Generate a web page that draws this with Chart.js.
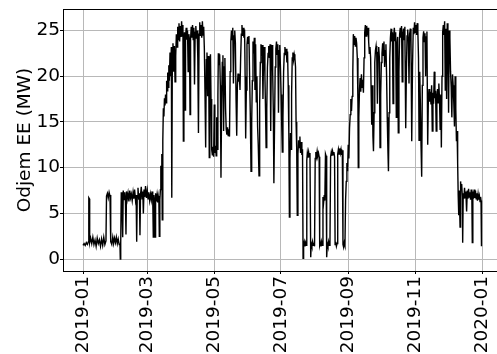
<!DOCTYPE html>
<html>
<head>
<meta charset="utf-8">
<title>Odjem EE</title>
<script src="https://cdn.jsdelivr.net/npm/chart.js@4/dist/chart.umd.min.js"></script>
<style>
    html, body { margin: 0; padding: 0; background: #ffffff; overflow: hidden; }
    #chartOdjem { display: block; }
</style>
</head>
<body>
<canvas id="chartOdjem" width="497" height="354"></canvas>
<script>
'use strict';

//tick labels

const xTickDays = [0, 59, 120, 181, 243, 304, 365];   //days since 2019-01-01
const xTickLabels = ['2019-01', '2019-03', '2019-05', '2019-07', '2019-09', '2019-11', '2020-01'];
const yTicks = [0, 5, 10, 15, 20, 25];

//series: day since 2019-01-01 and load in MW

const days = [
    0, 1, 2, 3, 4, 5, 5.3, 5.8, 6.1, 7,
    8, 9, 10, 11, 12, 13, 14, 15, 16, 17,
    18, 19, 20, 21, 21.5, 22.3, 23.1, 23.9, 24.7, 25.2,
    25.5, 26.3, 27.2, 28, 28.8, 29.7, 30.5, 31.4, 32.2, 33.1,
    33.8, 34.1, 34.5, 35, 35.6, 36.3, 36.8, 37.5, 38.2, 38.8,
    39.3, 39.8, 40.5, 41.2, 42, 42.8, 43.5, 44.2, 45, 45.8,
    46.5, 47.2, 48, 48.6, 49.1, 49.6, 50.3, 51, 51.6, 52.1,
    52.6, 53.3, 54, 54.7, 55.2, 55.8, 56.5, 57.2, 58, 58.8,
    59.5, 60.2, 61, 61.8, 62.5, 63.2, 63.8, 64.3, 64.8, 65.4,
    65.9, 66.4, 67, 67.7, 68.3, 68.8, 69.4, 69.8, 70.3, 70.8,
    71.2, 71.6, 72.1, 72.5, 73, 73.5, 74, 74.5, 75, 75.5,
    76, 76.5, 77, 77.5, 78, 78.5, 79, 79.6, 80.2, 80.8,
    81.2, 81.7, 82.3, 83, 83.6, 84.2, 84.8, 85.4, 86, 86.6,
    87.2, 87.8, 88.4, 89, 89.6, 90.2, 90.8, 91.4, 91.8, 92.3,
    92.8, 93.3, 93.8, 94.4, 95, 95.6, 96.2, 96.8, 97.4, 97.9,
    98.4, 99, 99.6, 100.2, 100.8, 101.4, 102, 102.6, 103.2, 103.8,
    104.4, 105, 105.6, 106.2, 106.8, 107.4, 108, 108.6, 109.2, 109.8,
    110.4, 111, 111.6, 112.2, 112.8, 113.4, 114, 114.6, 115.1, 115.5,
    116, 116.6, 117.1, 117.7, 118.3, 118.9, 119.5, 120.1, 120.6, 121.2,
    121.8, 122.3, 122.9, 123.4, 123.8, 124.4, 125, 125.6, 126.2, 126.8,
    127.4, 128, 128.6, 129.2, 129.8, 130.4, 131, 131.6, 132.2, 132.8,
    133.4, 134, 134.6, 135.2, 135.8, 136.4, 137, 137.6, 138.2, 138.8,
    139.4, 140, 140.6, 141.2, 141.8, 142.4, 143, 143.6, 144.2, 144.8,
    145.4, 146, 146.6, 147.2, 147.8, 148.3, 148.8, 149.4, 150, 150.6,
    151.2, 151.8, 152.4, 153, 153.7, 154.3, 154.9, 155.5, 156.1, 156.7,
    157.3, 157.9, 158.5, 159.1, 159.7, 160.3, 161, 161.6, 162.2, 162.8,
    163.4, 164, 164.6, 165.2, 165.8, 166.4, 167, 167.5, 168.1, 168.7,
    169.3, 169.9, 170.5, 171.1, 171.7, 172.3, 172.9, 173.5, 174.1, 174.6,
    175.2, 175.8, 176.4, 177, 177.6, 178.2, 178.8, 179.4, 180, 180.6,
    181.2, 181.8, 182.3, 182.9, 183.5, 184.1, 184.7, 185.3, 185.9, 186.5,
    187.1, 187.7, 188.3, 188.8, 189.3, 189.8, 190.3, 190.8, 191.4, 192,
    192.6, 193.2, 193.8, 194.4, 194.9, 195.5, 196, 196.6, 197.2, 197.8,
    198.4, 199, 199.6, 200.2, 200.8, 201.3, 201.8, 202.4, 203, 203.6,
    204.2, 204.7, 205.2, 205.8, 206.4, 207, 207.6, 208.3, 208.8, 209.4,
    210, 210.6, 211.2, 211.8, 212.4, 213, 213.6, 214.2, 214.8, 215.4,
    216, 216.5, 217.1, 217.7, 218.3, 218.9, 219.5, 220.1, 220.7, 221.2,
    221.8, 222.3, 222.9, 223.5, 224.1, 224.7, 225.3, 225.9, 226.5, 227.1,
    227.7, 228.3, 228.9, 229.5, 230.1, 230.6, 231.2, 231.8, 232.4, 233,
    233.6, 234.2, 234.8, 235.4, 236, 236.6, 237.2, 237.8, 238.4, 239,
    239.6, 240.2, 240.8, 241.4, 242, 242.6, 243.2, 243.8, 244.4, 245,
    245.6, 246.2, 246.8, 247.3, 247.9, 248.5, 249.1, 249.7, 250.3, 250.9,
    251.5, 251.8, 252.3, 252.9, 253.5, 254.1, 254.7, 255.3, 255.9, 256.5,
    257.1, 257.7, 258.3, 258.9, 259.5, 260.1, 260.7, 261.3, 261.9, 262.5,
    263.1, 263.6, 264.1, 264.7, 265.2, 265.7, 266.3, 266.9, 267.5, 268.1,
    268.7, 269.3, 269.9, 270.5, 271.1, 271.7, 272.3, 272.9, 273.5, 274.1,
    274.7, 275.3, 275.9, 276.5, 277.1, 277.7, 278.3, 278.9, 279.4, 280,
    280.6, 281.2, 281.8, 282.4, 283, 283.6, 284.2, 284.8, 285.4, 286,
    286.6, 287.2, 287.8, 288.4, 289, 289.6, 290.2, 290.8, 291.4, 292,
    292.6, 293.2, 293.8, 294.4, 295.2, 295.8, 296.4, 297, 297.6, 298.2,
    298.8, 299.4, 300, 300.7, 301.4, 302.1, 302.7, 303.3, 303.9, 304.5,
    305.1, 305.7, 306.3, 306.9, 307.4, 308, 308.6, 309.2, 309.8, 310.4,
    311, 311.6, 312.2, 312.8, 313.4, 314, 314.6, 315.3, 315.9, 316.5,
    317.1, 317.7, 318.3, 318.9, 319.5, 320.1, 320.7, 321.3, 321.9, 322.5,
    323.1, 323.7, 324.3, 324.9, 325.5, 326.1, 326.7, 327.3, 327.8, 328.4,
    329, 329.6, 330.2, 330.8, 331.4, 332, 332.6, 333.2, 333.8, 334.4,
    335, 335.6, 336.2, 336.8, 337.4, 338, 338.6, 339.2, 339.8, 340.4,
    341, 341.6, 342.2, 342.7, 343.2, 343.7, 344.2, 344.9, 345.4, 345.9,
    346.4, 347, 347.3, 347.8, 348.4, 349, 349.6, 350.2, 350.9, 351.5,
    352.1, 352.7, 353.3, 353.9, 354.5, 355.1, 355.7, 356.1, 356.6, 357.2,
    357.8, 358.4, 359, 359.6, 360.2, 360.8, 361.4, 362, 362.6, 363.2,
    363.7, 364.1, 364.5
];

const odjemMW = [
    1.5, 1.7, 1.5, 1.8, 1.6, 1.9, 6.7, 6.6, 1.8, 2.3,
    1.7, 2.4, 1.6, 2.1, 1.4, 2.3, 1.7, 2.1, 1.4, 2.2,
    1.5, 2.4, 1.6, 2.0, 6.9, 7.2, 6.7, 7.3, 6.9, 7.0,
    1.9, 1.6, 2.4, 1.7, 2.3, 1.8, 2.4, 1.7, 2.2, 1.6,
    1.7, 0.0, 1.8, 7.3, 6.6, 2.4, 7.5, 6.5, 7.3, 6.4,
    2.7, 7.4, 6.6, 7.2, 6.3, 7.5, 6.7, 7.1, 6.4, 7.3,
    6.6, 7.6, 6.5, 7.0, 1.9, 6.8, 7.8, 6.5, 7.2, 2.6,
    7.0, 7.9, 6.6, 7.4, 5.0, 7.6, 6.8, 8.0, 6.7, 7.5,
    6.6, 7.3, 6.4, 7.1, 6.5, 7.4, 6.6, 2.4, 7.0, 6.4,
    2.4, 7.2, 6.3, 7.0, 6.2, 6.9, 6.4, 2.5, 6.5, 7.6,
    10.2, 9.0, 11.5, 4.3, 13.0, 16.5, 15.6, 17.6, 16.8, 18.0,
    17.1, 19.5, 18.4, 20.4, 18.8, 21.2, 19.5, 22.6, 20.0, 23.2,
    6.7, 21.5, 23.6, 20.5, 23.3, 19.4, 22.2, 24.6, 23.2, 25.4,
    24.0, 25.8, 23.8, 25.5, 24.3, 26.0, 24.4, 25.6, 12.9, 23.6,
    24.8, 16.3, 24.2, 25.3, 24.0, 25.0, 20.5, 24.6, 23.9, 15.8,
    24.1, 25.4, 24.2, 25.6, 24.0, 25.3, 19.1, 24.8, 25.5, 24.1,
    25.0, 22.0, 13.8, 24.6, 25.9, 24.4, 25.6, 24.2, 26.0, 24.5,
    25.4, 23.0, 18.0, 12.2, 21.8, 22.6, 17.8, 22.2, 18.5, 11.1,
    21.5, 22.4, 17.5, 12.0, 11.4, 12.3, 11.2, 16.9, 11.6, 12.4,
    11.3, 15.5, 12.0, 18.0, 22.5, 21.2, 22.4, 19.0, 8.9, 17.0,
    21.5, 22.3, 14.0, 21.0, 22.0, 16.5, 14.2, 13.6, 14.4, 13.5,
    14.2, 13.4, 20.5, 23.8, 25.0, 24.0, 25.3, 19.2, 24.4, 25.0,
    23.6, 17.5, 13.5, 19.0, 20.3, 19.4, 20.2, 18.5, 22.0, 24.6,
    25.6, 24.4, 25.3, 24.2, 25.1, 20.0, 13.2, 18.5, 23.5, 24.3,
    23.6, 24.4, 20.0, 16.0, 9.6, 15.0, 19.5, 23.8, 22.5, 24.2,
    18.5, 23.5, 17.2, 20.0, 14.5, 12.5, 9.1, 17.0, 21.5, 23.5,
    22.8, 23.4, 17.5, 22.6, 23.2, 20.0, 16.0, 12.2, 16.5, 21.0,
    22.5, 23.3, 22.0, 23.5, 14.0, 22.8, 23.4, 20.5, 16.0, 8.3,
    14.5, 21.0, 23.0, 23.8, 22.4, 23.5, 16.0, 22.8, 23.4, 21.0,
    18.0, 14.5, 11.7, 15.5, 20.5, 22.5, 23.2, 22.3, 23.0, 21.5,
    22.7, 19.0, 13.5, 4.6, 11.0, 13.8, 12.0, 18.0, 22.0, 22.6,
    21.8, 22.4, 22.0, 21.0, 15.0, 12.0, 4.8, 11.5, 13.0, 12.2,
    13.4, 11.6, 12.8, 11.4, 12.0, 0.1, 1.6, 1.9, 1.4, 1.8,
    1.5, 10.8, 11.6, 11.1, 11.7, 11.2, 11.6, 0.2, 1.7, 1.4,
    1.9, 1.5, 1.8, 1.4, 11.0, 11.7, 11.2, 11.8, 11.3, 11.6,
    11.2, 1.5, 1.8, 1.4, 1.9, 1.5, 6.8, 6.2, 7.0, 6.4,
    11.5, 11.3, 0.2, 1.7, 1.4, 1.9, 1.5, 1.8, 11.2, 11.7,
    11.3, 11.8, 11.4, 11.7, 11.2, 1.6, 1.9, 1.4, 1.7, 11.5,
    12.0, 11.5, 12.1, 11.6, 12.0, 11.4, 11.9, 1.6, 1.3, 1.8,
    1.5, 6.5, 8.5, 10.5, 9.6, 12.5, 11.0, 14.3, 15.8, 17.5,
    16.2, 17.8, 20.5, 24.6, 23.5, 24.4, 23.3, 24.2, 23.6, 22.0,
    17.0, 10.0, 15.5, 18.5, 19.8, 18.3, 20.2, 18.8, 19.6, 18.2,
    22.0, 24.8, 25.6, 24.4, 25.5, 24.5, 25.3, 23.8, 22.5, 23.2,
    22.0, 18.0, 14.7, 19.0, 13.5, 11.8, 16.0, 21.5, 22.8, 23.3,
    22.4, 17.0, 22.6, 23.2, 22.0, 12.2, 18.0, 21.5, 22.5, 23.6,
    22.3, 23.8, 21.0, 22.8, 23.5, 20.0, 15.5, 12.0, 9.6, 16.0,
    22.0, 24.2, 25.2, 23.8, 24.8, 17.0, 24.5, 25.3, 23.9, 24.8,
    15.5, 23.5, 24.3, 13.8, 20.5, 24.5, 25.3, 24.2, 25.5, 19.4,
    24.6, 25.2, 24.0, 25.4, 14.3, 20.5, 24.4, 25.1, 24.0, 19.2,
    24.6, 25.2, 24.1, 12.9, 21.0, 25.3, 24.6, 25.9, 24.8, 25.6,
    24.5, 25.8, 24.9, 22.0, 13.0, 20.5, 17.0, 12.5, 9.0, 19.0,
    24.2, 24.9, 23.8, 24.7, 20.0, 24.3, 24.9, 12.5, 17.5, 18.6,
    17.2, 18.3, 16.9, 19.0, 14.0, 18.2, 17.0, 20.5, 17.6, 18.4,
    14.0, 17.8, 18.6, 17.1, 19.2, 17.5, 14.2, 18.0, 12.2, 20.0,
    24.8, 25.6, 24.5, 26.0, 18.5, 25.2, 17.5, 25.8, 24.6, 16.0,
    25.0, 24.2, 20.5, 18.8, 15.5, 20.2, 19.0, 17.0, 14.5, 20.0,
    16.5, 12.9, 14.0, 10.5, 7.0, 4.8, 7.5, 3.5, 8.5, 7.6,
    8.2, 6.8, 1.8, 7.2, 6.6, 7.8, 6.7, 7.4, 5.2, 7.5,
    6.6, 7.7, 6.8, 7.3, 6.5, 7.6, 6.9, 1.8, 7.4, 6.6,
    7.6, 6.7, 7.5, 6.6, 7.2, 6.4, 7.1, 6.5, 6.9, 6.3,
    6.8, 6.4, 1.4
];

//axis ranges

var xMin = -18.3;
var xMax = 378.7;
var yMin = -1.3;
var yMax = 27.35;

//style

var fontFamily = "'DejaVu Sans', sans-serif";
var fontSize = 18.5;
var gridColor = "rgb(184,184,184)";
var lineColor = "rgb(0,0,0)";

Chart.defaults.font.family = fontFamily;
Chart.defaults.font.size = fontSize;
Chart.defaults.color = "#000";

if (days.length != odjemMW.length) console.warn("days / odjemMW length mismatch", days.length, odjemMW.length);

//top spine, chart.js only draws the axis borders

const topSpine = {
    id: 'topSpine',
    afterDraw(chart) {
        const { ctx, chartArea } = chart;
        ctx.save();
        ctx.strokeStyle = "#000";
        ctx.lineWidth = 1;
        ctx.beginPath();
        ctx.moveTo(chartArea.left, chartArea.top + 0.5);
        ctx.lineTo(chartArea.right, chartArea.top + 0.5);
        ctx.stroke();
        ctx.restore();
    }
};

const chartData = {
    datasets: [{
        label: 'Odjem EE',
        borderColor: lineColor,
        backgroundColor: lineColor,
        borderWidth: 1.4,
        pointRadius: 0,
        tension: 0,
        data: days.map((d, i) => ({ x: d, y: odjemMW[i] }))
    }]
};

const chartConfig = {
    type: 'line',
    data: chartData,
    options: {
        responsive: false,
        devicePixelRatio: 1,
        animation: false,
        layout: { padding: { top: 9, left: 0, right: 0, bottom: 0 } },
        plugins: {
            legend: { display: false },
            tooltip: { enabled: false }
        },
        scales: {
            x: {
                type: 'linear',
                min: xMin,
                max: xMax,
                afterBuildTicks: (scale) => { scale.ticks = xTickDays.map(v => ({ value: v })); },
                afterFit: (scale) => {
                    scale.height = 83;
                    scale.paddingLeft = 0;
                    scale.paddingRight = 0;
                },
                ticks: {
                    autoSkip: false,
                    maxRotation: 90,
                    minRotation: 90,
                    padding: 2,
                    color: "#000",
                    callback: (value) => xTickLabels[xTickDays.indexOf(value)]
                },
                grid: { color: gridColor, lineWidth: 1, tickLength: 3, tickColor: "#000" },
                border: { color: "#000", width: 1 }
            },
            y: {
                min: yMin,
                max: yMax,
                afterBuildTicks: (scale) => { scale.ticks = yTicks.map(v => ({ value: v })); },
                afterFit: (scale) => {
                    scale.width = 63;
                    scale.paddingTop = 0;
                    scale.paddingBottom = 0;
                },
                ticks: { padding: 0, color: "#000" },
                grid: { color: gridColor, lineWidth: 1, tickLength: 3, tickColor: "#000" },
                border: { color: "#000", width: 1 },
                title: {
                    display: true,
                    text: 'Odjem EE (MW)',
                    color: "#000",
                    font: { size: fontSize },
                    padding: { top: 14, bottom: 0 }
                }
            }
        }
    },
    plugins: [topSpine]
};

window.onload = function () {
    //draw chart
    new Chart(document.getElementById('chartOdjem'), chartConfig);
};
</script>
</body>
</html>
